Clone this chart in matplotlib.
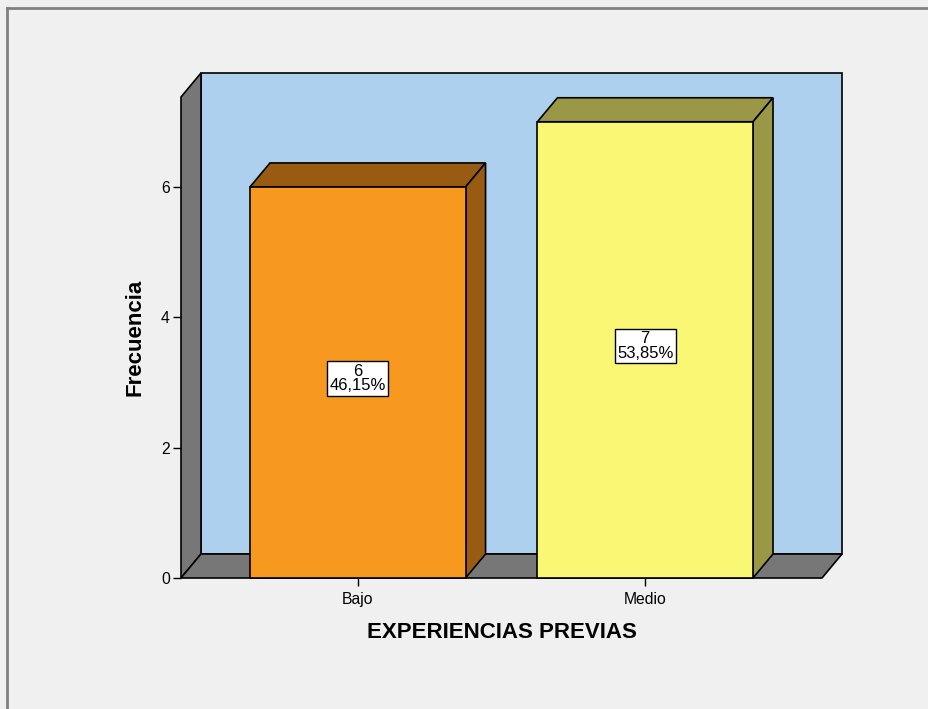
import numpy as np
import matplotlib.pyplot as plt
from matplotlib.patches import Polygon, Rectangle

plt.rcParams['font.family'] = ['Liberation Sans', 'DejaVu Sans']

# data
categories = ['Bajo', 'Medio']
counts = [6, 7]
percents = ['46,15%', '53,85%']
front_colors = ['#F7981F', '#FAF774']
shade_colors = ['#995A12', '#9A9746']

fig = plt.figure(figsize=(9.29, 7.09), dpi=100)
fig.patch.set_facecolor('#F0F0F0')

# outer frame (top and left edges)
fig.add_artist(plt.Line2D([7/929, 1], [1 - 8/709, 1 - 8/709], color='#808080', lw=2))
fig.add_artist(plt.Line2D([7/929, 7/929], [0, 1 - 8/709], color='#808080', lw=2))

ax = fig.add_axes([181/929, 131/709, 641/929, 481/709])
ax.set_facecolor('none')
x0, x1 = -0.615, 1.615
y0, y1 = 0, 7.38
ax.set_xlim(x0, x1)
ax.set_ylim(y0, y1)
for s in ax.spines.values():
    s.set_visible(False)

# depth offset in data units (about 20px right, 24px up)
dx = 20 * (x1 - x0) / 641
dy = 24 * (y1 - y0) / 481

ek = dict(edgecolor='black', linewidth=1.2, clip_on=False, joinstyle='miter')

# back wall
ax.add_patch(Polygon([(x0 + dx, dy), (x1 + dx, dy), (x1 + dx, y1 + dy), (x0 + dx, y1 + dy)],
                     facecolor='#ADD0EE', **ek))
# side wall
ax.add_patch(Polygon([(x0, 0), (x0, y1), (x0 + dx, y1 + dy), (x0 + dx, dy)],
                     facecolor='#777777', **ek))
# floor
ax.add_patch(Polygon([(x0, 0), (x1, 0), (x1 + dx, dy), (x0 + dx, dy)],
                     facecolor='#777777', **ek))

w = 0.75
for i, (c, p) in enumerate(zip(counts, percents)):
    l, r = i - w / 2, i + w / 2
    ax.add_patch(Polygon([(l, c), (r, c), (r + dx, c + dy), (l + dx, c + dy)],
                         facecolor=shade_colors[i], **ek))
    ax.add_patch(Polygon([(r, 0), (r + dx, dy), (r + dx, c + dy), (r, c)],
                         facecolor=shade_colors[i], **ek))
    ax.add_patch(Rectangle((l, 0), w, c, facecolor=front_colors[i], **ek))
    ax.text(i, c / 2 + 0.06, f'{c}\n{p}', ha='center', va='center', fontsize=12,
            linespacing=0.95, multialignment='center',
            bbox=dict(boxstyle='square,pad=0.15', facecolor='white', edgecolor='black', lw=1))

ax.set_yticks([0, 2, 4, 6])
ax.set_xticks(range(len(categories)))
ax.set_xticklabels(categories)
ax.tick_params(axis='both', direction='out', length=6, width=1, color='black',
               labelsize=11.3, pad=2)
ax.tick_params(axis='x', pad=4)
ax.set_ylabel('Frecuencia', fontsize=16, fontweight='bold', labelpad=11)
ax.set_xlabel('EXPERIENCIAS PREVIAS', fontsize=16, fontweight='bold', labelpad=11)

fig.savefig('out.png', dpi=100, facecolor=fig.get_facecolor())
